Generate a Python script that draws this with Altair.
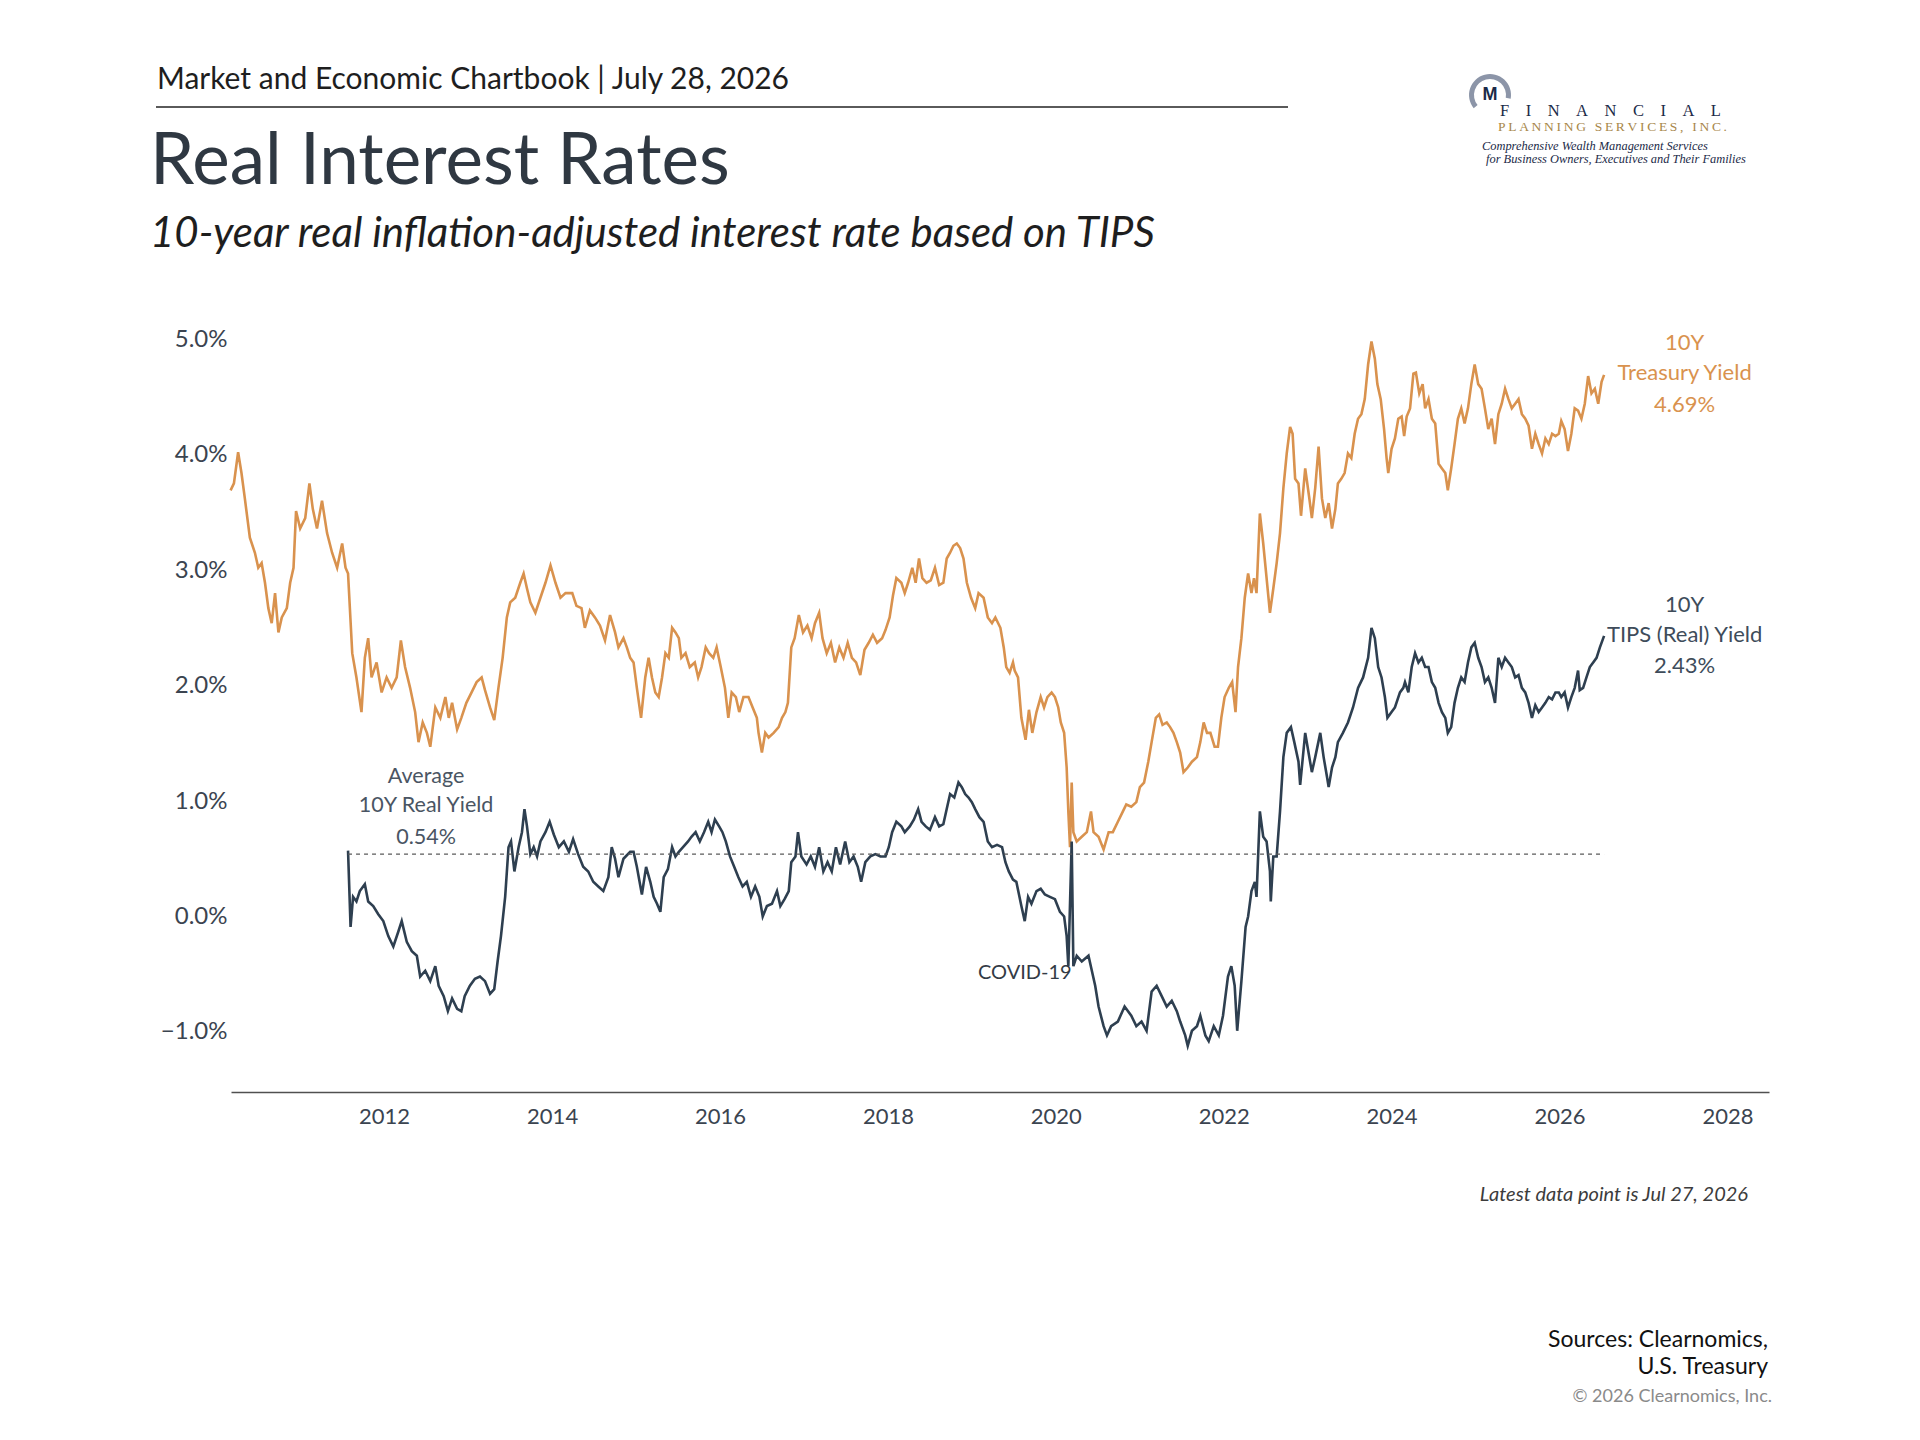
import altair as alt
import pandas as pd

# ---------------- data ----------------
treasury_years = [
    2010.17, 2010.21, 2010.26, 2010.30, 2010.34, 2010.40, 2010.46, 2010.50, 2010.54, 2010.58,
    2010.62, 2010.66, 2010.70, 2010.74, 2010.78, 2010.84, 2010.88, 2010.92, 2010.95, 2011.00,
    2011.06, 2011.11, 2011.15, 2011.20, 2011.26, 2011.32, 2011.38, 2011.44, 2011.50, 2011.54,
    2011.57, 2011.62, 2011.67, 2011.73, 2011.77, 2011.81, 2011.85, 2011.91, 2011.97, 2012.03,
    2012.09, 2012.15, 2012.20, 2012.25, 2012.31, 2012.37, 2012.41, 2012.46, 2012.51, 2012.55,
    2012.61, 2012.67, 2012.73, 2012.77, 2012.81, 2012.87, 2012.92, 2012.98, 2013.04, 2013.10,
    2013.16, 2013.20, 2013.26, 2013.31, 2013.36, 2013.41, 2013.46, 2013.50, 2013.56, 2013.62,
    2013.66, 2013.70, 2013.74, 2013.80, 2013.86, 2013.92, 2013.98, 2014.04, 2014.10, 2014.16,
    2014.24, 2014.29, 2014.35, 2014.39, 2014.45, 2014.51, 2014.57, 2014.63, 2014.69, 2014.75,
    2014.79, 2014.85,
    2014.89, 2014.93, 2014.97, 2015.01, 2015.06, 2015.11, 2015.15, 2015.19, 2015.23, 2015.27,
    2015.31, 2015.35, 2015.39, 2015.43, 2015.47, 2015.51, 2015.54, 2015.59, 2015.64, 2015.70,
    2015.74, 2015.78, 2015.83, 2015.87, 2015.92, 2015.96, 2016.01, 2016.06, 2016.10, 2016.14,
    2016.19, 2016.23, 2016.28, 2016.34, 2016.39, 2016.44, 2016.46, 2016.50, 2016.54, 2016.58,
    2016.64, 2016.70, 2016.74, 2016.78, 2016.81, 2016.85, 2016.89, 2016.94, 2016.99, 2017.04,
    2017.09, 2017.13, 2017.18, 2017.22, 2017.27, 2017.32, 2017.37, 2017.42, 2017.47, 2017.52,
    2017.57, 2017.62, 2017.67, 2017.72, 2017.77, 2017.82, 2017.87, 2017.93, 2017.97, 2018.02,
    2018.06, 2018.10, 2018.16, 2018.20, 2018.24, 2018.29, 2018.33, 2018.37, 2018.41, 2018.46,
    2018.51, 2018.56, 2018.61, 2018.66, 2018.70, 2018.74, 2018.78, 2018.82, 2018.86, 2018.90,
    2018.94, 2018.99, 2019.04, 2019.08, 2019.14, 2019.19, 2019.24, 2019.28, 2019.34, 2019.38,
    2019.41, 2019.45, 2019.49,
    2019.51, 2019.55, 2019.59, 2019.64, 2019.68, 2019.72, 2019.77, 2019.82, 2019.86, 2019.90,
    2019.95, 2019.99, 2020.03, 2020.06, 2020.10, 2020.13, 2020.15, 2020.17, 2020.19, 2020.21,
    2020.25, 2020.31, 2020.37, 2020.42, 2020.45, 2020.51, 2020.57, 2020.63, 2020.68, 2020.74,
    2020.80, 2020.84, 2020.90, 2020.96, 2021.00, 2021.05, 2021.10, 2021.14, 2021.19, 2021.23,
    2021.27, 2021.32, 2021.36, 2021.40, 2021.44, 2021.48, 2021.52, 2021.57, 2021.62, 2021.68,
    2021.72, 2021.76, 2021.80, 2021.84, 2021.89, 2021.93, 2021.97, 2022.01, 2022.06, 2022.10,
    2022.14, 2022.17, 2022.21, 2022.25, 2022.29, 2022.33, 2022.36, 2022.39, 2022.43, 2022.47,
    2022.51, 2022.55, 2022.59, 2022.63, 2022.67, 2022.71, 2022.75, 2022.79, 2022.82, 2022.85,
    2022.89, 2022.92, 2022.97, 2023.02, 2023.05, 2023.09, 2023.13, 2023.17, 2023.21, 2023.25,
    2023.29, 2023.33, 2023.36, 2023.40, 2023.44, 2023.48, 2023.52, 2023.56, 2023.60, 2023.64,
    2023.68, 2023.72, 2023.76, 2023.80, 2023.83, 2023.87, 2023.91, 2023.94, 2023.96, 2024.00,
    2024.04, 2024.08, 2024.12, 2024.15,
    2024.18, 2024.22, 2024.26, 2024.29, 2024.33, 2024.37, 2024.40, 2024.44, 2024.48, 2024.52,
    2024.56, 2024.60, 2024.64, 2024.67, 2024.71, 2024.75, 2024.79, 2024.83, 2024.87, 2024.91,
    2024.95, 2024.99, 2025.03, 2025.07, 2025.11, 2025.15, 2025.19, 2025.23, 2025.27, 2025.31,
    2025.35, 2025.39, 2025.43, 2025.47, 2025.51, 2025.55, 2025.59, 2025.63, 2025.67, 2025.71,
    2025.75, 2025.79, 2025.83, 2025.87, 2025.91, 2025.95, 2025.99, 2026.02, 2026.06, 2026.10,
    2026.14, 2026.18, 2026.22, 2026.26, 2026.30, 2026.34, 2026.38, 2026.42, 2026.46, 2026.50,
    2026.53,
]
treasury_values = [
    3.69, 3.75, 4.02, 3.84, 3.62, 3.28, 3.15, 3.02, 3.06, 2.89,
    2.67, 2.54, 2.80, 2.46, 2.59, 2.67, 2.89, 3.02, 3.51, 3.36,
    3.45, 3.75, 3.53, 3.36, 3.60, 3.32, 3.15, 3.02, 3.23, 3.02,
    2.97, 2.28, 2.07, 1.77, 2.24, 2.41, 2.07, 2.20, 1.94, 2.07,
    1.98, 2.07, 2.39, 2.16, 1.98, 1.77, 1.51, 1.68, 1.59, 1.47,
    1.81, 1.72, 1.90, 1.72, 1.85, 1.62, 1.72, 1.85, 1.94, 2.03,
    2.07, 1.96, 1.81, 1.70, 1.98, 2.24, 2.59, 2.72, 2.76, 2.89,
    2.97, 2.84, 2.72, 2.63, 2.76, 2.89, 3.04, 2.89, 2.76, 2.80,
    2.80, 2.69, 2.67, 2.50, 2.65, 2.59, 2.52, 2.39, 2.61, 2.46,
    2.33, 2.41,
    2.33, 2.24, 2.20, 1.98, 1.72, 2.07, 2.24, 2.07, 1.94, 1.90,
    2.07, 2.28, 2.24, 2.50, 2.46, 2.41, 2.24, 2.28, 2.16, 2.20,
    2.07, 2.16, 2.33, 2.28, 2.24, 2.33, 2.16, 1.98, 1.72, 1.94,
    1.90, 1.77, 1.90, 1.90, 1.81, 1.72, 1.59, 1.42, 1.59, 1.55,
    1.59, 1.64, 1.72, 1.77, 1.85, 2.33, 2.41, 2.61, 2.46, 2.52,
    2.41, 2.54, 2.63, 2.41, 2.28, 2.37, 2.20, 2.33, 2.24, 2.37,
    2.24, 2.20, 2.09, 2.31, 2.37, 2.44, 2.37, 2.41, 2.48, 2.59,
    2.78, 2.93, 2.89, 2.80, 2.89, 3.02, 2.89, 3.10, 2.93, 2.89,
    2.91, 3.02, 2.87, 2.89, 3.10, 3.15, 3.21, 3.23, 3.19, 3.10,
    2.89, 2.76, 2.67, 2.80, 2.76, 2.59, 2.54, 2.59, 2.50, 2.33,
    2.16, 2.11, 2.20,
    2.13, 2.07, 1.72, 1.53, 1.79, 1.59, 1.77, 1.90, 1.81, 1.90,
    1.94, 1.90, 1.81, 1.68, 1.59, 1.29, 0.91, 0.60, 1.16, 0.73,
    0.65, 0.69, 0.73, 0.91, 0.73, 0.69, 0.58, 0.73, 0.73, 0.82,
    0.91, 0.97, 0.95, 0.99, 1.12, 1.16, 1.34, 1.51, 1.72, 1.75,
    1.66, 1.68, 1.64, 1.59, 1.51, 1.42, 1.25, 1.29, 1.34, 1.38,
    1.51, 1.68, 1.59, 1.59, 1.47, 1.47, 1.72, 1.90, 1.98, 2.03,
    1.77, 2.16, 2.41, 2.76, 2.97, 2.80, 2.93, 2.80, 3.49, 3.23,
    2.93, 2.63, 2.84, 3.06, 3.32, 3.71, 4.01, 4.24, 4.18, 3.79,
    3.75, 3.47, 3.88, 3.62, 3.45, 3.71, 4.07, 3.62, 3.45, 3.58,
    3.36, 3.53, 3.75, 3.79, 3.84, 4.01, 3.97, 4.18, 4.31, 4.35,
    4.48, 4.78, 4.98, 4.83, 4.61, 4.48, 4.22, 3.97, 3.84, 4.05,
    4.14, 4.31, 4.33, 4.16,
    4.33, 4.40, 4.70, 4.71, 4.53, 4.61, 4.40, 4.48, 4.31, 4.27,
    3.92, 3.88, 3.84, 3.69, 3.88, 4.09, 4.31, 4.40, 4.27, 4.40,
    4.61, 4.78, 4.61, 4.57, 4.40, 4.22, 4.31, 4.09, 4.35, 4.44,
    4.57, 4.48, 4.40, 4.44, 4.48, 4.35, 4.31, 4.25, 4.05, 4.18,
    4.09, 4.01, 4.14, 4.09, 4.18, 4.16, 4.18, 4.29, 4.22, 4.03,
    4.18, 4.40, 4.38, 4.31, 4.44, 4.68, 4.53, 4.57, 4.44, 4.63,
    4.69,
]

tips_years = [
    2011.57, 2011.60, 2011.63, 2011.67, 2011.71, 2011.77, 2011.81, 2011.87, 2011.93, 2011.99,
    2012.05, 2012.11, 2012.17, 2012.21, 2012.27, 2012.33, 2012.39, 2012.43, 2012.49, 2012.55,
    2012.61, 2012.65, 2012.71, 2012.76, 2012.81, 2012.87, 2012.92, 2012.96, 2013.02, 2013.08,
    2013.14, 2013.20, 2013.26, 2013.31, 2013.35, 2013.39, 2013.44, 2013.48, 2013.51, 2013.55,
    2013.60, 2013.64, 2013.67, 2013.70, 2013.74, 2013.78, 2013.82, 2013.86, 2013.92, 2013.97,
    2014.02, 2014.08, 2014.14, 2014.20, 2014.25, 2014.31, 2014.37, 2014.43, 2014.49, 2014.55,
    2014.61, 2014.67, 2014.71, 2014.75, 2014.79, 2014.85,
    2014.93, 2014.97, 2015.01, 2015.07, 2015.12, 2015.17, 2015.21, 2015.25, 2015.29, 2015.33,
    2015.38, 2015.43, 2015.47, 2015.51, 2015.56, 2015.62, 2015.66, 2015.71, 2015.76, 2015.81,
    2015.86, 2015.90, 2015.94, 2015.99, 2016.03, 2016.07, 2016.12, 2016.17, 2016.22, 2016.27,
    2016.32, 2016.37, 2016.42, 2016.47, 2016.51, 2016.56, 2016.62, 2016.68, 2016.72, 2016.77,
    2016.82, 2016.85, 2016.90, 2016.93, 2016.97, 2017.03, 2017.08, 2017.13, 2017.18, 2017.23,
    2017.28, 2017.33, 2017.38, 2017.43, 2017.49, 2017.54, 2017.59, 2017.64, 2017.68, 2017.73,
    2017.79, 2017.85, 2017.91, 2017.97, 2018.01, 2018.05, 2018.10, 2018.16, 2018.20, 2018.26,
    2018.31, 2018.36, 2018.40, 2018.45, 2018.50, 2018.56, 2018.61, 2018.66, 2018.70, 2018.74,
    2018.79, 2018.84, 2018.88, 2018.92, 2018.96, 2019.00, 2019.04, 2019.09, 2019.14, 2019.19,
    2019.24, 2019.30, 2019.36, 2019.40, 2019.44, 2019.49,
    2019.53, 2019.59, 2019.63, 2019.67, 2019.71, 2019.77, 2019.82, 2019.87, 2019.93, 2019.99,
    2020.05, 2020.10, 2020.13, 2020.15, 2020.19, 2020.21, 2020.25, 2020.31, 2020.39, 2020.43,
    2020.47, 2020.51, 2020.57, 2020.61, 2020.66, 2020.74, 2020.82, 2020.90, 2020.96, 2021.02,
    2021.08, 2021.14, 2021.20, 2021.26, 2021.32, 2021.38, 2021.44, 2021.48, 2021.54, 2021.57,
    2021.62, 2021.68, 2021.72, 2021.78, 2021.82, 2021.88, 2021.94, 2021.99, 2022.05, 2022.09,
    2022.13, 2022.16, 2022.21, 2022.26, 2022.29, 2022.33, 2022.37, 2022.39, 2022.43, 2022.47,
    2022.51, 2022.55, 2022.56, 2022.59, 2022.63, 2022.67, 2022.71, 2022.75, 2022.80, 2022.84,
    2022.89, 2022.91, 2022.97, 2023.01, 2023.05, 2023.09, 2023.15, 2023.19, 2023.23, 2023.25,
    2023.29, 2023.33, 2023.36, 2023.42, 2023.48, 2023.54, 2023.60, 2023.66, 2023.72, 2023.76,
    2023.80, 2023.84, 2023.88, 2023.92, 2023.95, 2024.00, 2024.04, 2024.10, 2024.14,
    2024.16, 2024.20, 2024.24, 2024.28, 2024.32, 2024.36, 2024.40, 2024.44, 2024.48, 2024.52,
    2024.56, 2024.60, 2024.64, 2024.67, 2024.71, 2024.75, 2024.79, 2024.83, 2024.87, 2024.91,
    2024.95, 2024.99, 2025.03, 2025.07, 2025.11, 2025.15, 2025.19, 2025.23, 2025.27, 2025.31,
    2025.35, 2025.39, 2025.43, 2025.47, 2025.51, 2025.55, 2025.59, 2025.63, 2025.67, 2025.71,
    2025.75, 2025.79, 2025.83, 2025.87, 2025.91, 2025.95, 2025.99, 2026.02, 2026.06, 2026.10,
    2026.14, 2026.18, 2026.22, 2026.24, 2026.28, 2026.32, 2026.36, 2026.40, 2026.44, 2026.48,
    2026.53,
]
tips_values = [
    0.57, -0.09, 0.17, 0.13, 0.22, 0.28, 0.13, 0.09, 0.02, -0.04,
    -0.17, -0.26, -0.13, -0.04, -0.22, -0.30, -0.34, -0.52, -0.47, -0.56,
    -0.43, -0.60, -0.69, -0.82, -0.71, -0.80, -0.82, -0.69, -0.60, -0.54,
    -0.52, -0.56, -0.67, -0.63, -0.39, -0.17, 0.17, 0.60, 0.65, 0.39,
    0.60, 0.73, 0.93, 0.78, 0.54, 0.60, 0.52, 0.65, 0.73, 0.82,
    0.71, 0.60, 0.65, 0.56, 0.67, 0.54, 0.43, 0.39, 0.30, 0.26,
    0.22, 0.34, 0.60, 0.50, 0.34, 0.50,
    0.56, 0.56, 0.43, 0.19, 0.43, 0.30, 0.17, 0.11, 0.04, 0.34,
    0.41, 0.60, 0.52, 0.56, 0.60, 0.65, 0.69, 0.73, 0.65, 0.73,
    0.82, 0.73, 0.84, 0.78, 0.73, 0.65, 0.52, 0.43, 0.34, 0.26,
    0.30, 0.17, 0.26, 0.17, 0.00, 0.09, 0.11, 0.22, 0.09, 0.15,
    0.22, 0.47, 0.52, 0.73, 0.52, 0.45, 0.52, 0.43, 0.60, 0.39,
    0.47, 0.39, 0.60, 0.45, 0.65, 0.47, 0.52, 0.43, 0.30, 0.47,
    0.52, 0.54, 0.52, 0.52, 0.60, 0.73, 0.82, 0.78, 0.73, 0.78,
    0.84, 0.93, 0.82, 0.78, 0.75, 0.86, 0.78, 0.80, 0.93, 1.06,
    1.03, 1.16, 1.12, 1.06, 1.03, 0.99, 0.93, 0.86, 0.82, 0.65,
    0.60, 0.62, 0.60, 0.47, 0.39, 0.32,
    0.30, 0.09, -0.04, 0.17, 0.11, 0.22, 0.24, 0.19, 0.17, 0.15,
    0.04, 0.00, -0.17, -0.43, 0.65, -0.43, -0.34, -0.39, -0.34, -0.47,
    -0.60, -0.78, -0.95, -1.03, -0.95, -0.91, -0.78, -0.86, -0.95, -0.91,
    -0.99, -0.65, -0.60, -0.69, -0.78, -0.73, -0.82, -0.91, -1.03, -1.12,
    -0.99, -0.95, -0.86, -1.03, -1.08, -0.95, -1.03, -0.86, -0.52, -0.43,
    -0.60, -0.99, -0.56, -0.09, 0.00, 0.22, 0.30, 0.17, 0.91, 0.69,
    0.65, 0.39, 0.13, 0.52, 0.52, 0.91, 1.38, 1.59, 1.64, 1.51,
    1.34, 1.14, 1.59, 1.42, 1.25, 1.38, 1.59, 1.38, 1.21, 1.12,
    1.29, 1.38, 1.51, 1.59, 1.68, 1.81, 1.98, 2.07, 2.24, 2.50,
    2.41, 2.16, 2.07, 1.90, 1.72, 1.77, 1.81, 1.94, 1.98,
    2.03, 1.94, 2.16, 2.28, 2.20, 2.24, 2.16, 2.16, 2.03, 1.98,
    1.85, 1.77, 1.72, 1.59, 1.64, 1.85, 1.98, 2.07, 2.03, 2.20,
    2.33, 2.37, 2.24, 2.16, 2.03, 2.07, 1.98, 1.85, 2.24, 2.16,
    2.24, 2.20, 2.16, 2.07, 2.09, 1.98, 1.94, 1.85, 1.72, 1.83,
    1.77, 1.81, 1.85, 1.90, 1.88, 1.94, 1.94, 1.90, 1.94, 1.81,
    1.90, 1.98, 2.13, 1.96, 1.98, 2.07, 2.16, 2.20, 2.24, 2.33,
    2.43,
]

average_real_yield = 0.54
y_ticks = [-1, 0, 1, 2, 3, 4, 5]
x_tick_years = [2012, 2014, 2016, 2018, 2020, 2022, 2024, 2026, 2028]

label_texts = ["10Y", "Treasury Yield", "4.69%",
               "10Y", "TIPS (Real) Yield", "2.43%",
               "Average", "10Y Real Yield", "0.54%",
               "COVID-19"]
label_years = [2027.49, 2027.49, 2027.49,
               2027.49, 2027.49, 2027.49,
               2012.50, 2012.50, 2012.50,
               2020.19]
label_values = [4.97, 4.71, 4.43,
                2.70, 2.44, 2.17,
                1.21, 0.96, 0.68,
                -0.49]
label_series = ["treasury"] * 3 + ["tips"] * 3 + ["avg"] * 3 + ["covid"]


# ---------------- helpers ----------------
def to_date(y):
    yr = int(y)
    ts = pd.Timestamp(yr, 1, 1) + pd.Timedelta(days=(y - yr) * 365.25)
    return ts.strftime("%Y-%m-%dT%H:%M:%S")


FONT = "Lato"
ORANGE = "#D9924E"
NAVY = "#2E3F50"
AXIS_TXT = "#3B4450"

treasury_df = pd.DataFrame({"date": [to_date(y) for y in treasury_years], "value": treasury_values})
tips_df = pd.DataFrame({"date": [to_date(y) for y in tips_years], "value": tips_values})
avg_df = pd.DataFrame({"start": [to_date(tips_years[0])], "end": [to_date(tips_years[-1])],
                       "value": [average_real_yield]})
lab_df = pd.DataFrame({"date": [to_date(y) for y in label_years], "value": label_values,
                       "text": label_texts, "series": label_series})

W, H = 1538, 776

x_enc = alt.X(
    "date:T",
    scale=alt.Scale(domain=[alt.DateTime(year=2010, month=3, date=6),
                            alt.DateTime(year=2028, month=6, date=30)]),
    axis=alt.Axis(
        values=[alt.DateTime(year=y, month=1, date=1) for y in x_tick_years],
        format="%Y", title=None, grid=False, ticks=False,
        labelFont=FONT, labelFontSize=22, labelColor=AXIS_TXT, labelPadding=14,
        labelFlush=False, labelOverlap=False,
        domainColor="#505050", domainWidth=1.6,
    ),
)
y_enc = alt.Y(
    "value:Q",
    scale=alt.Scale(domain=[-1.52, 5.2], nice=False, zero=False),
    axis=alt.Axis(
        values=y_ticks, title=None, grid=False, ticks=False, domain=False,
        labelExpr="format(datum.value, '.1f') + '%'",
        labelFont=FONT, labelFontSize=24, labelColor=AXIS_TXT, labelPadding=4,
    ),
)

treasury_line = alt.Chart(treasury_df).mark_line(color=ORANGE, strokeWidth=2.6).encode(x=x_enc, y=y_enc)
tips_line = alt.Chart(tips_df).mark_line(color=NAVY, strokeWidth=2.6).encode(x="date:T", y="value:Q")
avg_rule = alt.Chart(avg_df).mark_rule(color="#5a5a5a", strokeWidth=1.3, strokeDash=[4, 4]).encode(
    x="start:T", x2="end:T", y="value:Q")

label_color = alt.Color(
    "series:N",
    scale=alt.Scale(domain=["treasury", "tips", "avg", "covid"],
                    range=[ORANGE, "#3E4C5A", "#4A5563", "#333B45"]),
    legend=None,
)
labels_right = alt.Chart(lab_df).transform_filter(
    "datum.series == 'treasury' || datum.series == 'tips'").mark_text(
    font=FONT, fontSize=22, align="center", baseline="middle").encode(
    x="date:T", y="value:Q", text="text:N", color=label_color)
labels_avg = alt.Chart(lab_df).transform_filter("datum.series == 'avg'").mark_text(
    font=FONT, fontSize=21.5, align="center", baseline="middle").encode(
    x="date:T", y="value:Q", text="text:N", color=label_color)
labels_covid = alt.Chart(lab_df).transform_filter("datum.series == 'covid'").mark_text(
    font=FONT, fontSize=20, align="right", baseline="middle").encode(
    x="date:T", y="value:Q", text="text:N", color=label_color)


def txt(s, x, y, size, color="#222222", align="left", style="normal", weight="normal", font=FONT):
    return alt.Chart(pd.DataFrame({"t": [s]})).mark_text(
        font=font, fontSize=size, align=align, baseline="middle", color=color,
        fontStyle=style, fontWeight=weight).encode(
        x=alt.value(x), y=alt.value(y), text="t:N")


header = txt("Market and Economic Chartbook | July 28, 2026", -74, -236, 30, "#1e1e1e")
header_rule = alt.Chart(pd.DataFrame({"a": [0]})).mark_rule(color="#5a5a5a", strokeWidth=2).encode(
    x=alt.value(-75), x2=alt.value(1057), y=alt.value(-209))
title = txt("Real Interest Rates", -81, -153, 71, "#2F3842")
subtitle = txt("10-year real inflation-adjusted interest rate based on TIPS", -81, -82, 42, "#1e1e1e",
               style="italic")

# logo
logo_ring = alt.Chart(pd.DataFrame({"a": [0]})).mark_arc(
    radius=21, radius2=16, theta=4.03, theta2=8.03, color="#8C95A8").encode(
    x=alt.value(1259), y=alt.value(-221))
logo_m = txt("M", 1259, -221, 18, "#1B2A48", align="center", weight="bold", font="Liberation Sans")
nb = "\u00a0"
logo_fin = txt((nb * 4).join("FINANCIAL"), 1269, -205, 16.5, "#1B2A48", font="Liberation Serif")
logo_plan = txt("\u2009".join("PLANNING SERVICES, INC."), 1267, -189, 13.5, "#A8874A",
                font="Liberation Serif")
logo_tag1 = txt("Comprehensive Wealth Management Services", 1251, -170, 12.4, "#1B2A48",
                style="italic", font="Liberation Serif")
logo_tag2 = txt("for Business Owners, Executives and Their Families", 1255, -157, 12.4, "#1B2A48",
                style="italic", font="Liberation Serif")

latest = txt("Latest data point is Jul 27, 2026", 1517, 879, 20, "#3c3c3c", align="right", style="italic")
src1 = txt("Sources: Clearnomics,", 1537, 1024, 23, "#111111", align="right")
src2 = txt("U.S. Treasury", 1537, 1051, 23, "#111111", align="right")
copy_ = txt("\u00a9 2026 Clearnomics, Inc.", 1541, 1081, 18, "#8a8a8a", align="right")

chart = alt.layer(
    treasury_line, tips_line, avg_rule, labels_right, labels_avg, labels_covid,
    header, header_rule, title, subtitle,
    logo_ring, logo_m, logo_fin, logo_plan, logo_tag1, logo_tag2,
    latest, src1, src2, copy_,
).properties(
    width=W, height=H,
    autosize=alt.AutoSizeParams(type="none"),
    padding={"left": 223, "top": 308, "right": 143, "bottom": 340},
    background="white",
).configure_view(stroke=None)

chart.save("out.html", embed_options={"renderer": "svg", "actions": False})
